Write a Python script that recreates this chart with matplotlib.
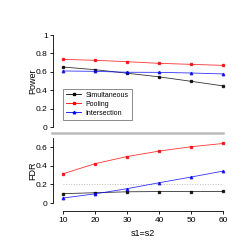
import matplotlib.pyplot as plt
from matplotlib.lines import Line2D

plt.rcParams['font.family'] = ['Liberation Sans', 'DejaVu Sans']

s = [10, 20, 30, 40, 50, 60]
power_sim = [0.652, 0.623, 0.585, 0.545, 0.497, 0.447]
power_pool = [0.735, 0.725, 0.71, 0.692, 0.681, 0.67]
power_int = [0.609, 0.605, 0.595, 0.594, 0.587, 0.577]
fdr_sim = [0.10, 0.11, 0.12, 0.123, 0.122, 0.124]
fdr_pool = [0.313, 0.421, 0.498, 0.556, 0.603, 0.638]
fdr_int = [0.053, 0.098, 0.153, 0.217, 0.278, 0.342]

W = H = 245.0
fig = plt.figure(figsize=(2.45, 2.45), dpi=100)

xl = (7, 63)
left = 53.4 / W
width = 179.2 / W

styles = [('black', 's'), ('red', 's'), ('blue', '^')]
names = ['Simultaneous', 'Pooling', 'Intersection']


def style_axis(ax):
    for sp in ['top', 'right']:
        ax.spines[sp].set_visible(False)
    ax.tick_params(labelsize=6, length=2.5, width=0.6, pad=1.5)
    ax.spines['left'].set_linewidth(0.6)
    ax.spines['bottom'].set_linewidth(0.6)


# top panel: power
ax1 = fig.add_axes([left, (W - 127) / W, width, 92 / W])
for ys, (c, m) in zip([power_sim, power_pool, power_int], styles):
    ax1.plot(s, ys, color=c, marker=m, lw=0.6, ms=1.8, alpha=0.8)
ax1.set_xlim(*xl)
ax1.set_ylim(0, 1)
style_axis(ax1)
ax1.spines['bottom'].set_visible(False)
ax1.set_xticks([])
ax1.set_yticks([0, 0.2, 0.4, 0.6, 0.8, 1])
ax1.set_yticklabels(['0', '0.2', '0.4', '0.6', '0.8', '1'])
ax1.spines['left'].set_bounds(0, 1)
ax1.set_ylabel('Power', fontsize=6.5, labelpad=-0.5)

handles = [Line2D([], [], color=c, marker=m, lw=0.6, ms=1.8) for c, m in styles]
leg = ax1.legend(handles, names, loc='lower left', bbox_to_anchor=(0.054, 0.076),
                 fontsize=5, frameon=True, fancybox=False, handlelength=2.2,
                 borderpad=0.45, labelspacing=0.3, handletextpad=0.6,
                 borderaxespad=0)
leg.get_frame().set_edgecolor('#555555')
leg.get_frame().set_linewidth(0.6)

# separator
fig.add_artist(Line2D([52 / W, 223 / W], [(W - 133) / W, (W - 133) / W],
                      color='#bbbbbb', lw=1.8))

# bottom panel: FDR
ax2 = fig.add_axes([left, (W - 203) / W, width, 0.7 * 93.3 / W])
ax2.plot(s, [0.2] * len(s), color='#bbbbbb', lw=0.7, ls=':')
for ys, (c, m) in zip([fdr_sim, fdr_pool, fdr_int], styles):
    ax2.plot(s, ys, color=c, marker=m, lw=0.6, ms=1.8, alpha=0.8)
ax2.set_xlim(*xl)
ax2.set_ylim(0, 0.7)
style_axis(ax2)
ax2.spines['bottom'].set_position(('outward', 6))
ax2.spines['bottom'].set_bounds(10, 60)
ax2.spines['left'].set_bounds(0, 0.7)
ax2.set_yticks([0, 0.2, 0.4, 0.6])
ax2.set_yticklabels(['0', '0.2', '0.4', '0.6'])
ax2.set_xticks(s)
ax2.set_ylabel('FDR', fontsize=6.5, labelpad=-0.5)
ax2.set_xlabel('s1=s2', fontsize=6.5, labelpad=4)

fig.savefig('out.png', dpi=100)
